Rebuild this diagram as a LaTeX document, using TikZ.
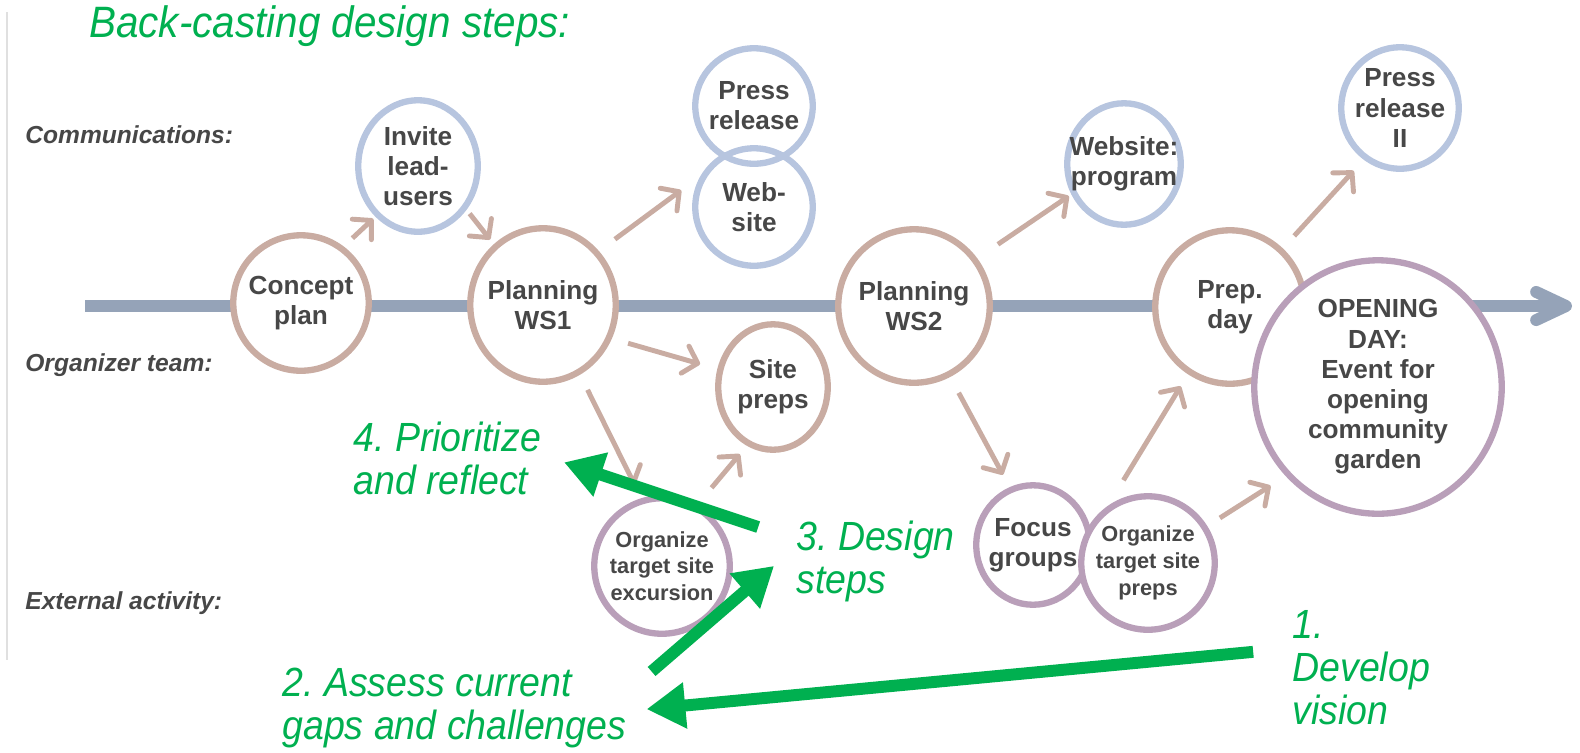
\documentclass[tikz,border=0pt]{standalone}
\usepackage{fontspec}
\setmainfont{Liberation Sans}
\newfontfamily\stepfont[FakeStretch=0.92]{Liberation Sans}
\usepackage{tikz}
\usetikzlibrary{arrows.meta,shapes.geometric}
\frenchspacing

\definecolor{rose}{HTML}{C9ACA2}
\definecolor{commblue}{HTML}{B7C5DF}
\definecolor{extpurple}{HTML}{B99FB9}
\definecolor{timeline}{HTML}{95A3B8}
\definecolor{stepgreen}{HTML}{00B050}
\definecolor{ink}{HTML}{474747}

\begin{document}
\begin{tikzpicture}[x=0.02cm,y=-0.02cm,
        act/.style={ellipse,draw=rose,fill=white,line width=3.6pt,inner sep=-40pt,
            align=center,text=ink,font=\fontsize{14.9}{17.2}\selectfont\bfseries},
        comm/.style={act,draw=commblue},
        ext/.style={act,draw=extpurple},
        smalltext/.style={font=\fontsize{12.4}{15.2}\selectfont\bfseries},
        flow/.style={draw=rose,line width=2.8pt,-{Straight Barb[length=7.5pt,width=16pt,round]}},
        back/.style={draw=stepgreen,line width=6.8pt,-{Triangle[length=22pt,width=25pt]}},
        note/.style={anchor=west,inner sep=0pt,align=left,text=stepgreen,
            font=\stepfont\itshape\fontsize{23.2}{24.5}\selectfont},
        lane/.style={anchor=base west,inner sep=0pt,text=ink,
            font=\bfseries\itshape\fontsize{14}{17}\selectfont}]

    \useasboundingbox (0,0) rectangle (1580,752);
    \draw[black!12,line width=0.8pt] (7,12) -- (7,660);

    \node[note,anchor=base west,font=\stepfont\itshape\fontsize{25}{28}\selectfont] (title) at (89,37) {Back-casting design steps:};

    \node[lane] (lcomm) at (25,143) {Communications:};
    \node[lane] (lorg) at (25,371) {Organizer team:};
    \node[lane] (lext) at (25,609) {External activity:};

    \coordinate (t0) at (85,306);
    \coordinate (t1) at (1572,306);
    \draw[timeline,line width=6.8pt,-{Straight Barb[length=17pt,width=16pt,round]}] (t0) -- (t1);

    \node[act,minimum width=2.71cm,minimum height=2.71cm] (concept) at (301,303) {Concept\\plan};
    \node[comm,minimum width=2.39cm,minimum height=2.63cm] (invite) at (418,166) {Invite\\lead-\\users};
    \node[act,minimum width=2.91cm,minimum height=3.07cm] (ws1) at (543,305) {Planning\\WS1};
    \node[comm,fill=none,minimum width=2.35cm,minimum height=2.31cm] (press) at (754,106) {Press\\release};
    \node[comm,fill=none,minimum width=2.35cm,minimum height=2.35cm] (web) at (754,207) {Web-\\site};
    \node[act,minimum width=2.19cm,minimum height=2.51cm] (sitepreps) at (773,387) {Site\\preps};
    \node[ext,smalltext,minimum width=2.71cm,minimum height=2.71cm] (excursion) at (662,566) {Organize\\target site\\excursion};
    \node[act,minimum width=3.03cm,minimum height=3.07cm] (ws2) at (914,306) {Planning\\WS2};
    \node[comm,minimum width=2.27cm,minimum height=2.43cm] (webprog) at (1124,164) {Website:\\program};
    \node[comm,minimum width=2.35cm,minimum height=2.43cm] (press2) at (1400,108) {Press\\release\\II};
    \node[act,minimum width=2.99cm,minimum height=3.07cm] (prepday) at (1230,307) {Prep.\\day};
    \node[ext,minimum width=4.95cm,minimum height=5.07cm] (opening) at (1378,387) {OPENING\\DAY:\\Event for\\opening\\community\\garden};
    \node[ext,minimum width=2.27cm,minimum height=2.39cm] (focus) at (1033,545) {Focus\\groups};
    \node[ext,smalltext,minimum width=2.67cm,minimum height=2.67cm] (orgpreps) at (1148,563) {Organize\\target site\\preps};

    \path (concept.53) edge[flow,shorten <=6.8pt,shorten >=1.7pt] (invite.230)
          (invite.-42) edge[flow,shorten <=2.8pt,shorten >=3.4pt] (ws1.129)
          (ws1.44) edge[flow,shorten <=11.3pt,shorten >=13.6pt] (web.150)
          (ws1.-26) edge[flow,shorten <=9.6pt,shorten >=10.2pt] (sitepreps.162)
          (ws1.-62) edge[flow,shorten <=9.6pt,shorten >=8.5pt] (excursion.107)
          (excursion.60) edge[flow,shorten <=12.5pt,shorten >=6.2pt] (sitepreps.-114)
          (ws2.37) edge[flow,shorten <=14.2pt,shorten >=1.7pt] (webprog.-150)
          (ws2.-63) edge[flow,shorten <=10.2pt,shorten >=8pt] (focus.112)
          (orgpreps.125) edge[flow,shorten <=17pt,shorten >=8pt] (prepday.-122)
          (prepday.48) edge[flow,shorten <=9.6pt,shorten >=8.5pt] (press2.-125)
          (orgpreps.32) edge[flow,shorten <=8.5pt,shorten >=10.2pt] (opening.-136);

    \node[note] (prio) at (353,458) {4. Prioritize\\and reflect};
    \node[note] (design) at (796,561) {3. Design\\steps};
    \node[note] (assess) at (282,708) {2. Assess current\\gaps and challenges};
    \node[note] (develop) at (1292,668) {1.\\Develop\\vision};

    \path (design.165) edge[back,shorten <=22.7pt,shorten >=13.7pt] (prio.2)
          (assess.5) edge[back,shorten <=18.7pt,shorten >=16.5pt] (design.170)
          (develop.164) edge[back,shorten <=22.2pt,shorten >=11.4pt] (assess.-1);
\end{tikzpicture}
\end{document}
